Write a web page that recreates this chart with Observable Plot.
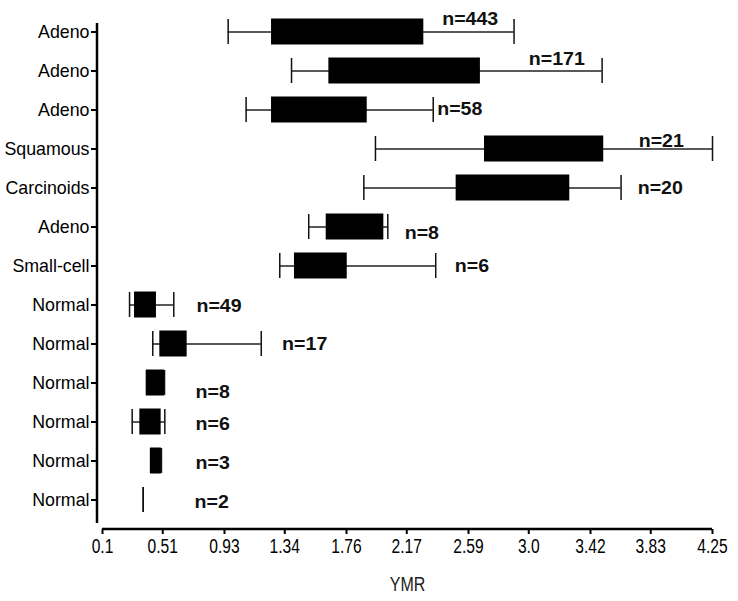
<!DOCTYPE html>
<html><head><meta charset="utf-8">
<script src="https://cdn.jsdelivr.net/npm/d3@7"></script>
<script src="https://cdn.jsdelivr.net/npm/@observablehq/plot@0.6"></script>
<style>html,body{margin:0;padding:0;background:#fff}</style>
</head><body><div id="chart"></div>
<script>
// ---- data ----
const categories = ["Adeno","Adeno","Adeno","Squamous","Carcinoids","Adeno","Small-cell","Normal","Normal","Normal","Normal","Normal","Normal"];
const counts     = [443, 171, 58, 21, 20, 8, 6, 49, 17, 8, 6, 3, 2];
const minVals    = [0.955, 1.386, 1.077, 1.957, 1.878, 1.503, 1.306, 0.284, 0.442, 0.399, 0.302, 0.427, 0.377];
const q1Vals     = [1.250, 1.640, 1.250, 2.699, 2.506, 1.622, 1.406, 0.318, 0.490, 0.399, 0.354, 0.427, 0.377];
const q3Vals     = [2.286, 2.671, 1.901, 3.510, 3.279, 2.014, 1.765, 0.467, 0.676, 0.522, 0.499, 0.501, 0.377];
const maxVals    = [2.900, 3.499, 2.350, 4.250, 3.628, 2.041, 2.367, 0.585, 1.180, 0.522, 0.524, 0.501, 0.377];
const xTickValues = [0.1, 0.51, 0.93, 1.34, 1.76, 2.17, 2.59, 3.0, 3.42, 3.83, 4.25];
const xTickLabels = ["0.1","0.51","0.93","1.34","1.76","2.17","2.59","3.0","3.42","3.83","4.25"];
const xLabel = "YMR";
// annotation placement for the "n=" labels (x in YMR units, vertical nudge in px)
const nLabelX  = [2.411, 3.000, 2.377, 3.748, 3.741, 2.156, 2.497, 0.739, 1.322, 0.733, 0.733, 0.733, 0.726];
const nLabelDy = [-14, -13, -2, -9, -1, 5, -1, 0, -1, 8, 1, 1, 1.5];

const rows = categories.map((c, i) => ({
  id: i, cat: c, n: counts[i], min: minVals[i], q1: q1Vals[i], q3: q3Vals[i], max: maxVals[i],
  lx: nLabelX[i], ldy: nLabelDy[i]
}));

const fontFamily = '"Liberation Sans", Arial, Helvetica, sans-serif';

// offset axis lines (GraphPad style), drawn from the plot's own scales/dimensions
const axisLines = (index, scales, values, dims) => {
  const g = d3.create("svg:g").attr("stroke", "black").attr("stroke-width", 2.5).attr("fill", "none");
  const yb = dims.height - dims.marginBottom;
  const xl = dims.marginLeft - 5;
  g.append("line").attr("x1", xl).attr("x2", xl).attr("y1", dims.marginTop + 16).attr("y2", yb);
  g.append("line")
    .attr("x1", scales.x(xTickValues[0]))
    .attr("x2", scales.x(xTickValues[xTickValues.length - 1]))
    .attr("y1", yb + 6).attr("y2", yb + 6);
  return g.node();
};

const chart = Plot.plot({
  width: 738,
  height: 601,
  marginLeft: 102,
  marginRight: 26,
  marginTop: 7,
  marginBottom: 78,
  style: {fontFamily, background: "white", color: "black", overflow: "visible"},
  x: {domain: [0.1, 4.25], nice: false},
  y: {domain: rows.map(d => d.id), padding: 0},
  marks: [
    axisLines,
    Plot.axisY({
      tickSize: 6, tickPadding: 2, dx: -5, strokeWidth: 2,
      tickFormat: i => categories[i], fontSize: 17.8, label: null
    }),
    Plot.axisX({
      ticks: xTickValues, tickFormat: d => xTickLabels[xTickValues.indexOf(d)],
      tickSize: 5, tickPadding: 5, dy: 6, strokeWidth: 2, fontSize: 19.5, label: null
    }),
    Plot.ruleY(rows, {y: "id", x1: "min", x2: "max", stroke: "#222", strokeWidth: 1.3}),
    Plot.tickX(rows, {y: "id", x: "min", stroke: "#111", strokeWidth: 1.5, insetTop: 7, insetBottom: 7}),
    Plot.tickX(rows, {y: "id", x: "max", stroke: "#111", strokeWidth: 1.5, insetTop: 7, insetBottom: 7}),
    Plot.barX(rows, {y: "id", x1: "q1", x2: "q3", fill: "black", insetTop: 6.5, insetBottom: 6.5}),
    ...rows.map(r => Plot.text([r], {
      x: "lx", y: "id", text: d => "n=" + d.n, textAnchor: "start",
      dy: r.ldy + 1, fontSize: 17.5, fontWeight: "bold", fill: "#111"
    })),
    Plot.text([xLabel], {frameAnchor: "bottom", text: d => d, dy: 67, fontSize: 19.5, fill: "#222"})
  ]
});

document.getElementById("chart").appendChild(chart);

// horizontal squeeze/stretch of glyphs to match the reference typography
function stretch(el, s) {
  const t = el.getAttribute("transform") || "";
  el.setAttribute("transform", `${t} scale(${s},1)`);
}
chart.querySelectorAll('g[aria-label="x-axis tick label"] text').forEach(el => stretch(el, 0.8));
chart.querySelectorAll("text").forEach(el => {
  const s = el.textContent;
  if (s.startsWith("n=")) stretch(el, 1.12);
  else if (s === xLabel) stretch(el, 0.82);
});
</script>
</body></html>
